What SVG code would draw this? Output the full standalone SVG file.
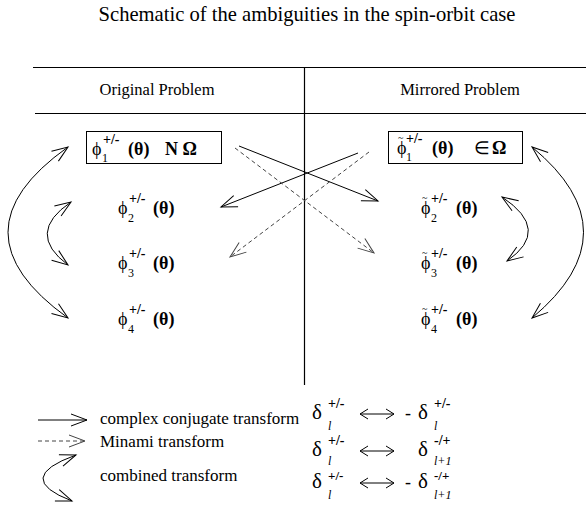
<svg xmlns="http://www.w3.org/2000/svg" width="586" height="506" viewBox="0 0 586 506">
<style>
text{font-family:"Liberation Serif","Times New Roman",serif;fill:#000}
.t{font-size:20.6px}
.h{font-size:16.5px}
.m{font-size:18px}
.p{font-size:18px}
.tl{font-size:10px}
.sup{font-size:14px;font-weight:bold}
.sup2{font-size:13px;font-weight:bold}
.sub{font-size:12px}
.b{font-weight:bold}
.lg{font-size:17px}
.d{font-size:21px}
.it{font-style:italic}
.ln{fill:none;stroke:#000;stroke-width:1}
.ds{fill:none;stroke:#444;stroke-width:1;stroke-dasharray:4 3}
.arc{fill:none;stroke:#000;stroke-width:1}
</style>
<defs>
<marker id="ah" viewBox="-18 -8 20 16" refX="0" refY="0" markerWidth="20" markerHeight="16" orient="auto-start-reverse" markerUnits="userSpaceOnUse">
<path d="M-16,-6 L0,0 L-16,6" fill="none" stroke="#000" stroke-width="1"/>
</marker>
<marker id="ahg" viewBox="-18 -8 20 16" refX="0" refY="0" markerWidth="20" markerHeight="16" orient="auto-start-reverse" markerUnits="userSpaceOnUse">
<path d="M-16,-6 L0,0 L-16,6" fill="none" stroke="#444" stroke-width="1"/>
</marker>
</defs>

<text class="t" x="307" y="21" text-anchor="middle">Schematic of the ambiguities in the spin-orbit case</text>

<g id="table">
<line x1="33" y1="67.5" x2="586" y2="67.5" stroke="#000" stroke-width="1"/>
<line x1="35" y1="113.5" x2="586" y2="113.5" stroke="#000" stroke-width="1"/>
<line x1="304.5" y1="67" x2="304.5" y2="385" stroke="#000" stroke-width="1.2"/>
<text class="h" x="157" y="95" text-anchor="middle">Original Problem</text>
<text class="h" x="460" y="95" text-anchor="middle">Mirrored Problem</text>
</g>

<g id="node-phi1">
<rect x="86.5" y="131.5" width="135" height="32" fill="#fff" stroke="#000" stroke-width="1"/>
<text class="p" x="92" y="155">ϕ</text><text class="sub" x="102" y="162">1</text><text class="sup" x="103" y="144">+/-</text>
<text class="m b" x="128" y="155">(θ)</text>
<text class="m b" x="165" y="155">N Ω</text>
</g>
<g id="node-phi2">
<text class="p" x="118" y="214">ϕ</text><text class="sub" x="128" y="222">2</text><text class="sup" x="129" y="203">+/-</text>
<text class="m b" x="153" y="214">(θ)</text>
</g>
<g id="node-phi3">
<text class="p" x="118" y="269">ϕ</text><text class="sub" x="128" y="277">3</text><text class="sup" x="129" y="258">+/-</text>
<text class="m b" x="153" y="269">(θ)</text>
</g>
<g id="node-phi4">
<text class="p" x="118" y="325">ϕ</text><text class="sub" x="128" y="333">4</text><text class="sup" x="129" y="314">+/-</text>
<text class="m b" x="153" y="325">(θ)</text>
</g>

<g id="node-tphi1">
<rect x="388.5" y="131.5" width="134" height="32" fill="#fff" stroke="#000" stroke-width="1"/>
<text class="p" x="397" y="154">ϕ<tspan class="tl" dx="-8.5" dy="-13">~</tspan></text><text class="sub" x="406" y="161">1</text><text class="sup" x="406" y="143">+/-</text>
<text class="m b" x="432" y="154">(θ)</text>
<text class="m" x="474" y="154">∈</text><text class="m b" x="492" y="154">Ω</text>
</g>
<g id="node-tphi2">
<text class="p" x="421" y="214">ϕ<tspan class="tl" dx="-8.5" dy="-13">~</tspan></text><text class="sub" x="431" y="222">2</text><text class="sup" x="431" y="203">+/-</text>
<text class="m b" x="456" y="214">(θ)</text>
</g>
<g id="node-tphi3">
<text class="p" x="421" y="269">ϕ<tspan class="tl" dx="-8.5" dy="-13">~</tspan></text><text class="sub" x="431" y="277">3</text><text class="sup" x="431" y="258">+/-</text>
<text class="m b" x="456" y="269">(θ)</text>
</g>
<g id="node-tphi4">
<text class="p" x="421" y="325">ϕ<tspan class="tl" dx="-8.5" dy="-13">~</tspan></text><text class="sub" x="431" y="333">4</text><text class="sup" x="431" y="314">+/-</text>
<text class="m b" x="456" y="325">(θ)</text>
</g>

<g id="connectors">
<path class="arc" d="M68,147 Q-52,232 68,318" marker-start="url(#ah)" marker-end="url(#ah)"/>
<path class="arc" d="M71,202 Q25,233 68,265" marker-start="url(#ah)" marker-end="url(#ah)"/>
<path class="arc" d="M532,147 Q635,232 532,318" marker-start="url(#ah)" marker-end="url(#ah)"/>
<path class="arc" d="M502,197 Q552,230 507,261" marker-start="url(#ah)" marker-end="url(#ah)"/>
<line class="ln" x1="239" y1="146" x2="378" y2="201" marker-end="url(#ah)"/>
<line class="ln" x1="358" y1="153" x2="221" y2="207" marker-end="url(#ah)"/>
<line class="ds" x1="235" y1="148" x2="374" y2="253" marker-end="url(#ahg)"/>
<line class="ds" x1="369" y1="152" x2="230" y2="257" marker-end="url(#ahg)"/>
</g>

<g id="legend">
<line class="ln" x1="38" y1="420" x2="87" y2="420" marker-end="url(#ah)"/>
<text class="lg" x="100" y="424">complex conjugate transform</text>
<line class="ds" x1="38" y1="441" x2="85" y2="441" stroke="#888" marker-end="url(#ahg)"/>
<text class="lg" x="100" y="447">Minami transform</text>
<path class="arc" d="M76,455 Q12,478 72,501" marker-start="url(#ah)" marker-end="url(#ah)"/>
<text class="lg" x="100" y="481">combined transform</text>
</g>

<g id="relations">
<g id="rel1">
<text class="d" x="312" y="419">δ</text><text class="sup" x="328" y="408">+/-</text><text class="sub it" x="328" y="430">l</text>
<path d="M360,414 L394,414 M368,409 L360,414 L368,419 M386,409 L394,414 L386,419" fill="none" stroke="#000" stroke-width="1"/>
<text class="m" x="405" y="419">-</text>
<text class="d" x="418" y="419">δ</text><text class="sup" x="434" y="408">+/-</text><text class="sub it" x="434" y="430">l</text>
</g>
<g id="rel2">
<text class="d" x="312" y="456">δ</text><text class="sup" x="328" y="445">+/-</text><text class="sub it" x="328" y="465">l</text>
<path d="M360,451 L394,451 M368,446 L360,451 L368,456 M386,446 L394,451 L386,456" fill="none" stroke="#000" stroke-width="1"/>
<text class="d" x="418" y="456">δ</text><text class="sup" x="434" y="445">-/+</text><text class="sub it" x="434" y="465">l+1</text>
</g>
<g id="rel3">
<text class="d" x="312" y="488">δ</text><text class="sup2" x="328" y="480">+/-</text><text class="sub it" x="328" y="499">l</text>
<path d="M360,483 L394,483 M368,478 L360,483 L368,488 M386,478 L394,483 L386,488" fill="none" stroke="#000" stroke-width="1"/>
<text class="m" x="405" y="488">-</text>
<text class="d" x="418" y="488">δ</text><text class="sup2" x="434" y="480">-/+</text><text class="sub it" x="434" y="499">l+1</text>
</g>
</g>
</svg>
